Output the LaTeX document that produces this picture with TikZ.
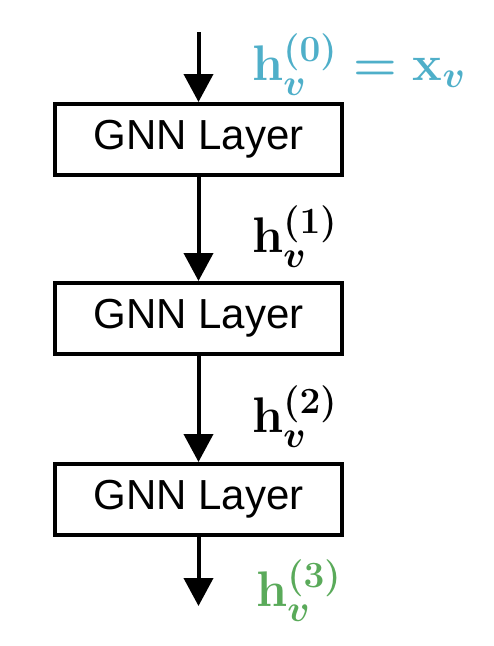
\RequirePackage{fix-cm}
\documentclass[tikz,border=0pt]{standalone}
\usepackage{fontspec}
\setsansfont{Liberation Sans}
\usetikzlibrary{arrows.meta}
\DeclareMathSizes{50}{50}{37}{26}
\definecolor{hcyan}{HTML}{4FAFC9}
\definecolor{hgreen}{HTML}{5AAA5A}
\begin{document}
\begin{tikzpicture}[x=1pt,y=-1pt,
  layerbox/.style={draw=black,line width=4pt,minimum width=287pt,minimum height=71pt,inner sep=0pt,font=\sffamily\fontsize{42}{48}\selectfont},
  flow/.style={line width=4pt,-{Triangle[length=28pt,width=29pt]}},
  hlabel/.style={anchor=base west,inner sep=0pt,font=\fontsize{50}{60}\selectfont\boldmath}]
\useasboundingbox (0,0) rectangle (494,646);
\node[layerbox] (l1) at (198.5,139.5) {GNN Layer};
\node[layerbox] (l2) at (198.5,318.5) {GNN Layer};
\node[layerbox] (l3) at (198.5,499.5) {GNN Layer};
\coordinate (in) at (198.5,32);
\coordinate (out) at (198.5,606);
\draw[flow] (in) -- (l1.north);
\draw[flow] (l1.south) -- (l2.north);
\draw[flow] (l2.south) -- (l3.north);
\draw[flow] (l3.south) -- (out);
\node[hlabel,text=hcyan] (h0) at (252,80) {$\mathbf{h}_v^{(0)}=\mathbf{x}_v$};
\node[hlabel] (h1) at (252,252) {$\mathbf{h}_v^{(1)}$};
\node[hlabel] (h2) at (252,432) {$\mathbf{h}_v^{(2)}$};
\node[hlabel,text=hgreen] (h3) at (256,606) {$\mathbf{h}_v^{(3)}$};
\end{tikzpicture}
\end{document}
